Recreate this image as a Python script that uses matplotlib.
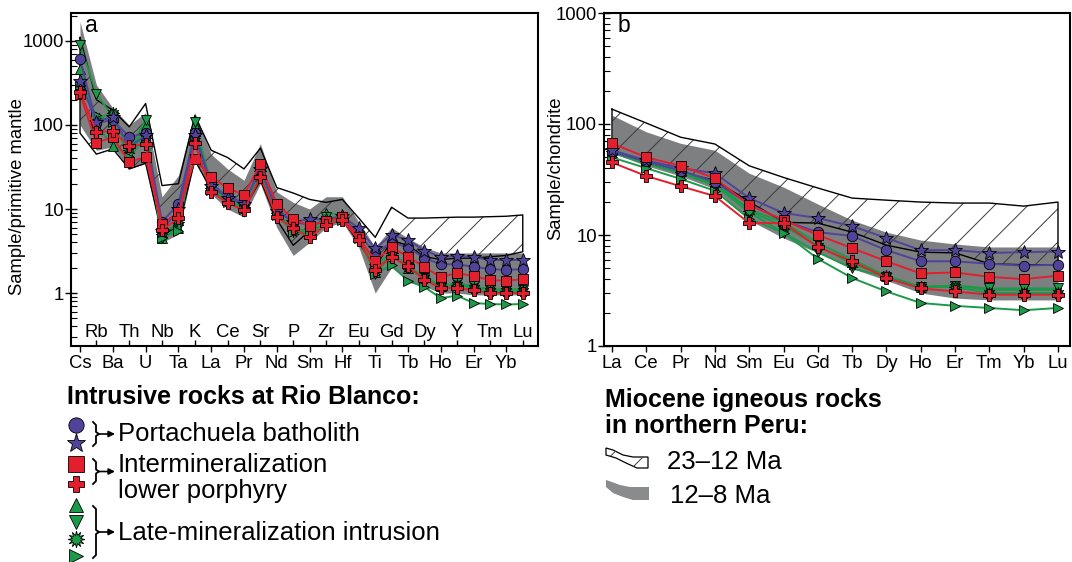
import numpy as np
import matplotlib
matplotlib.use('Agg')
import matplotlib.pyplot as plt
from matplotlib.patches import Polygon
from matplotlib.ticker import FixedLocator, NullFormatter, LogLocator

plt.rcParams['font.family'] = ['Liberation Sans', 'DejaVu Sans']
plt.rcParams['hatch.linewidth'] = 0.7

# ---- panel a: primitive-mantle normalised spider diagram ----
spider_el = ['Cs', 'Rb', 'Ba', 'Th', 'U', 'Nb', 'Ta', 'K', 'La', 'Ce', 'Pr', 'Sr', 'Nd', 'P',
             'Sm', 'Zr', 'Hf', 'Eu', 'Ti', 'Gd', 'Tb', 'Dy', 'Ho', 'Y', 'Er', 'Tm', 'Yb', 'Lu']

circle_a = [610, 105, 115, 72, 80, 7.0, 11.5, 80, 20, 14, 12, 30, 10, 7.0, 6.5, 7.2, 8.0, 5.0, 3.0,
            4.0, 3.5, 2.6, 2.2, 2.2, 2.05, 1.93, 1.88, 1.93]
star_a = [330, 110, 125, 55, 75, 5.5, 10, 75, 19, 13.5, 11.5, 30, 9.5, 7.0, 7.6, 7.5, 8.2, 5.9, 3.4,
          4.9, 4.3, 3.2, 2.7, 2.75, 2.7, 2.47, 2.47, 2.47]
square_a = [234, 61, 72, 36, 42, 6.6, 9.2, 39, 24, 17.8, 14.7, 34, 11.5, 7.6, 6.3, 7.2, 8.0, 4.6, 2.4,
            3.5, 2.7, 2.04, 1.55, 1.73, 1.59, 1.43, 1.39, 1.47]
plus_a = [250, 83, 84, 56, 59, 5.6, 7.8, 61, 15.9, 11.8, 9.7, 24, 8.0, 5.9, 4.6, 6.5, 7.4, 4.3, 1.9,
          2.7, 2.1, 1.43, 1.15, 1.15, 1.08, 1.0, 1.0, 1.0]
tri_up_a = [470, 100, 56, 45, 100, 4.5, 6.0, 100, 20, 14, 11, 30, 9.0, 6.0, 5.0, 9.0, 8.5, 5.0, 1.8,
            3.0, 2.0, 1.6, 1.2, 1.3, 1.2, 1.1, 1.1, 1.1]
tri_dn_a = [900, 235, 125, 50, 115, 4.5, 6.0, 110, 18, 13, 10, 30, 9.5, 5.8, 5.5, 8.0, 8.0, 4.8, 1.7,
            2.8, 2.0, 1.5, 1.2, 1.3, 1.2, 1.1, 1.1, 1.1]
burst_a = [300, 120, 138, 50, 75, 5.0, 7.0, 80, 18, 13, 10.5, 28, 9.0, 5.5, 5.0, 7.0, 8.0, 4.8, 2.2,
           3.0, 2.1, 1.5, 1.2, 1.25, 1.15, 1.05, 1.05, 1.05]
tri_rt_a = [290, 130, 110, 42, 70, 4.5, 5.5, 70, 17, 12, 10, 25, 8.5, 5.3, 5.0, 7.0, 7.5, 4.5, 1.7,
            2.15, 1.39, 1.18, 0.87, 0.93, 0.76, 0.74, 0.73, 0.74]

# Miocene fields, northern Peru
old_hi_a = [1100, 200, 150, 95, 180, 19, 20, 130, 50, 41, 30, 53, 18, 15.5, 13, 12, 13, 7.8, 4.6,
            10.5, 7.8, 7.8, 7.9, 8.0, 8.0, 8.1, 8.2, 8.5]
old_lo_a = [80, 45, 52, 30, 35, 5.0, 6.0, 38, 17, 12, 10, 22, 7.5, 3.7, 5.5, 6.5, 7.5, 4.0, 2.0,
            4.2, 3.7, 2.7, 2.5, 2.6, 2.6, 2.7, 2.8, 3.1]
young_hi_a = [1700, 300, 160, 100, 140, 14, 25, 140, 45, 30, 22, 60, 16, 12, 10, 14, 14, 7.0, 3.5,
              6.0, 4.5, 3.5, 3.0, 3.0, 3.0, 3.0, 3.0, 3.0]
young_lo_a = [100, 50, 55, 30, 35, 4.0, 5.0, 40, 15, 10, 8.0, 20, 6.0, 2.8, 4.0, 6.0, 7.0, 3.5, 1.0,
              2.0, 1.4, 1.2, 1.0, 1.0, 0.95, 0.95, 0.95, 0.95]

# ---- panel b: chondrite-normalised REE ----
ree_el = ['La', 'Ce', 'Pr', 'Nd', 'Sm', 'Eu', 'Gd', 'Tb', 'Dy', 'Ho', 'Er', 'Tm', 'Yb', 'Lu']

circle_b = [56, 46, 38, 30, 19, 13.5, 10.6, 9.8, 7.3, 5.8, 5.8, 5.5, 5.3, 5.4]
star_b = [58, 47, 40, 36, 21.5, 15.8, 14.2, 12, 9.4, 7.3, 7.3, 6.9, 7.0, 7.1]
square_b = [67, 50, 42, 32.5, 18.6, 13.6, 10, 7.6, 5.8, 4.5, 4.6, 4.2, 4.0, 4.3]
plus_b = [45, 34, 27.5, 22.4, 12.8, 12.8, 7.8, 5.8, 4.1, 3.3, 3.1, 2.9, 2.9, 2.9]
tri_up_b = [58, 47, 38, 30, 17, 13, 8.5, 6.0, 4.3, 3.4, 3.5, 3.2, 3.2, 3.2]
tri_dn_b = [55, 44, 36, 28, 16, 10.5, 7.0, 5.0, 4.2, 3.4, 3.5, 3.3, 3.3, 3.3]
burst_b = [57, 46, 37, 29, 16.5, 12, 8.0, 5.5, 4.3, 3.4, 3.4, 3.0, 3.0, 3.0]
tri_rt_b = [50, 40, 32, 25, 14, 10.5, 6.1, 4.1, 3.1, 2.44, 2.3, 2.2, 2.1, 2.2]

old_hi_b = [136, 102, 76, 66, 42, 33, 26.5, 21.5, 20.6, 19.8, 19.4, 19.4, 18.2, 19.8]
old_lo_b = [55, 45, 37, 31, 20, 13, 12.8, 10.6, 8.1, 7.0, 6.9, 5.5, 5.4, 5.4]
young_hi_b = [120, 85, 67, 58, 36, 27, 19, 13.6, 10.6, 9.0, 8.3, 7.8, 7.8, 7.8]
young_lo_b = [55, 42, 34, 26, 13.6, 9.4, 6.9, 5.0, 3.9, 3.0, 2.7, 2.6, 2.6, 2.6]

PURPLE = '#50449a'
RED = '#e31e2d'
GREEN = '#1c9a4a'
GREY = '#7e7f81'
FS_TICK = 13.3
FS_LEG = 18.5
FS_LEG_B = 18


def styles(d):
    # (values, colour, marker, size) in drawing order: green, purple, red
    return [
        (d['tri_up'], GREEN, '^', 7.5),
        (d['tri_dn'], GREEN, 'v', 7.5),
        (d['burst'], GREEN, (12, 1, 0), 9),
        (d['tri_rt'], GREEN, '>', 7.5),
        (d['circle'], PURPLE, 'o', 7.5),
        (d['star'], PURPLE, '*', 10),
        (d['square'], RED, 's', 7.5),
        (d['plus'], RED, 'P', 8.5),
    ]


def draw_fields(ax, x, old_lo, old_hi, young_lo, young_hi):
    ax.fill_between(x, young_lo, young_hi, color=GREY, lw=0, zorder=1)
    ax.fill_between(x, old_lo, old_hi, facecolor='none', edgecolor='#3a3a3a',
                    hatch='/', lw=0, zorder=1.5)
    ox = np.r_[x, x[::-1], x[0]]
    oy = np.r_[old_hi, old_lo[::-1], old_hi[0]]
    ax.plot(ox, oy, color='k', lw=1.0, zorder=2)


def draw_series(ax, x, d):
    for vals, col, mk, ms in styles(d):
        ax.plot(x, vals, color=col, lw=1.4, marker=mk, ms=ms, mfc=col, mec='k',
                mew=0.6, zorder=3)


def style_log_y(ax, lo, hi):
    ax.set_yscale('log')
    ax.set_ylim(lo, hi)
    ax.yaxis.set_major_locator(FixedLocator([1, 10, 100, 1000]))
    ax.set_yticklabels(['1', '10', '100', '1000'])
    ax.yaxis.set_minor_locator(LogLocator(base=10, subs=np.arange(2, 10), numticks=20))
    ax.yaxis.set_minor_formatter(NullFormatter())
    ax.tick_params(axis='y', which='major', direction='inout', length=8, width=1,
                   labelsize=FS_TICK, pad=1)
    ax.tick_params(axis='y', which='minor', direction='in', length=4, width=0.8)
    for s in ax.spines.values():
        s.set_linewidth(1.5)


fig = plt.figure(figsize=(10.72, 5.62), dpi=100)
ax_a = fig.add_axes([71 / 1072, 1 - 346 / 562, 467 / 1072, 333 / 562])
ax_b = fig.add_axes([604 / 1072, 1 - 346 / 562, 466 / 1072, 333 / 562])

# panel a
xa = np.arange(len(spider_el))
draw_fields(ax_a, xa, old_lo_a, old_hi_a, young_lo_a, young_hi_a)
draw_series(ax_a, xa, dict(circle=circle_a, star=star_a, square=square_a, plus=plus_a,
                           tri_up=tri_up_a, tri_dn=tri_dn_a, burst=burst_a, tri_rt=tri_rt_a))
style_log_y(ax_a, 0.234, 2154)
ax_a.set_xlim(-0.55, 27.93)
ax_a.set_xticks(xa[::2])
ax_a.set_xticklabels(spider_el[::2])
ax_a.set_xticks(xa[1::2], minor=True)
ax_a.tick_params(axis='x', which='major', direction='out', length=4.5, width=1,
                 labelsize=FS_TICK, pad=2)
ax_a.tick_params(axis='x', which='minor', direction='in', length=4.5, width=1)
for i in xa[1::2]:
    ax_a.text(i, 0.027, spider_el[i], transform=ax_a.get_xaxis_transform(),
              ha='center', va='baseline', fontsize=FS_TICK)
ax_a.set_ylabel('Sample/primitive mantle', fontsize=FS_TICK)
ax_a.yaxis.set_label_coords(-0.096, 0.45)
ax_a.text(0.03, 0.943, 'a', transform=ax_a.transAxes, fontsize=16.5, va='baseline')

# panel b
xb = np.arange(len(ree_el))
draw_fields(ax_b, xb, old_lo_b, old_hi_b, young_lo_b, young_hi_b)
draw_series(ax_b, xb, dict(circle=circle_b, star=star_b, square=square_b, plus=plus_b,
                           tri_up=tri_up_b, tri_dn=tri_dn_b, burst=burst_b, tri_rt=tri_rt_b))
style_log_y(ax_b, 1, 1000)
ax_b.set_xlim(-0.233, 13.35)
ax_b.set_xticks(xb)
ax_b.set_xticklabels(ree_el)
ax_b.tick_params(axis='x', which='major', direction='out', length=4.5, width=1,
                 labelsize=FS_TICK, pad=2)
ax_b.set_ylabel('Sample/chondrite', fontsize=FS_TICK)
ax_b.yaxis.set_label_coords(-0.086, 0.535)
ax_b.text(0.03, 0.943, 'b', transform=ax_b.transAxes, fontsize=16.5, va='baseline')

# ---- legends, drawn in pixel coordinates on an overlay ----
lg = fig.add_axes([0, 0, 1, 1])
lg.set_xlim(0, 1072)
lg.set_ylim(562, 0)
lg.axis('off')


def brace(y0, y1, x=93):
    ym = (y0 + y1) / 2
    lg.plot([x, x + 3, x + 3, x + 6, x + 3, x + 3, x],
            [y0, y0 + 3, ym - 2, ym, ym + 2, y1 - 3, y1], color='k', lw=1.3)
    lg.annotate('', xy=(115, ym), xytext=(x + 6, ym),
                arrowprops=dict(arrowstyle='-|>', lw=1.2, color='k', mutation_scale=9,
                                shrinkA=0, shrinkB=0))


lg.text(67, 404, 'Intrusive rocks at Rio Blanco:', fontsize=FS_LEG_B, fontweight='bold',
        va='baseline')
legend_marks = [(425, PURPLE, 'o', 11), (443, PURPLE, '*', 14),
                (464, RED, 's', 11), (484, RED, 'P', 12),
                (505, GREEN, '^', 10), (522, GREEN, 'v', 10),
                (539, GREEN, (12, 1, 0), 12), (556, GREEN, '>', 10)]
for y, col, mk, ms in legend_marks:
    lg.plot(76, y, marker=mk, ms=ms, mfc=col, mec='k', mew=0.6, ls='none', clip_on=False)
brace(422, 446)
brace(459, 484)
brace(506, 558)
lg.text(118, 441, 'Portachuela batholith', fontsize=FS_LEG, va='baseline')
lg.text(118, 472, 'Intermineralization', fontsize=FS_LEG, va='baseline')
lg.text(118, 498, 'lower porphyry', fontsize=FS_LEG, va='baseline')
lg.text(118, 540, 'Late-mineralization intrusion', fontsize=FS_LEG, va='baseline')

lg.text(605, 407, 'Miocene igneous rocks', fontsize=FS_LEG_B, fontweight='bold', va='baseline')
lg.text(605, 433, 'in northern Peru:', fontsize=FS_LEG_B, fontweight='bold', va='baseline')
old_sw = [(606, 448), (613, 450), (623, 455), (633, 457), (648, 457), (648, 468), (637, 468),
          (626, 463), (616, 458), (606, 455)]
young_sw = [(606, 480), (612, 482), (620, 485), (630, 487), (649, 487), (649, 500), (633, 500),
            (623, 497), (613, 493), (606, 487)]
lg.add_patch(Polygon(old_sw, closed=True, facecolor='white', edgecolor='k', lw=0.9))
lg.add_patch(Polygon(old_sw, closed=True, facecolor='none', edgecolor='#3a3a3a', lw=0, hatch='/'))
lg.add_patch(Polygon(young_sw, closed=True, facecolor='#8a8b8d', edgecolor='none'))
lg.text(667, 469, '23\u201312 Ma', fontsize=FS_LEG, va='baseline')
lg.text(670, 503, '12\u20138 Ma', fontsize=FS_LEG, va='baseline')

fig.savefig('out.png', dpi=100)
